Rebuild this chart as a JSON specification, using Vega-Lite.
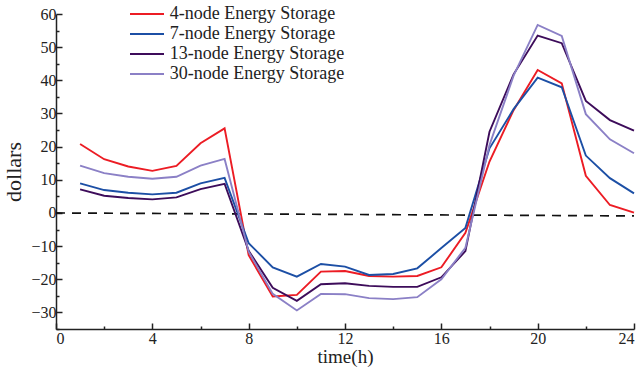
{
  "$schema": "https://vega.github.io/schema/vega-lite/v6.json",
  "width": 578,
  "height": 315,
  "autosize": "none",
  "padding": {"left": 56, "top": 14, "right": 9, "bottom": 46},
  "background": "white",
  "config": {
    "view": {"stroke": null},
    "font": "Liberation Serif",
    "axis": {"grid": false, "domainColor": "#222", "domainWidth": 1.5, "tickColor": "#222", "tickWidth": 1.5, "labelFont": "Liberation Serif", "titleFont": "Liberation Serif", "labelColor": "#222", "titleColor": "#222", "titleFontWeight": "normal", "labelFontSize": 16, "titleFontSize": 20, "labelOverlap": false, "labelBound": false}
  },
  "datasets": {
    "series": [
      {"h":1,"v":20.8,"s":"4-node Energy Storage"},{"h":2,"v":16.2,"s":"4-node Energy Storage"},{"h":3,"v":14.0,"s":"4-node Energy Storage"},{"h":4,"v":12.7,"s":"4-node Energy Storage"},{"h":5,"v":14.2,"s":"4-node Energy Storage"},{"h":6,"v":21.0,"s":"4-node Energy Storage"},{"h":7,"v":25.5,"s":"4-node Energy Storage"},{"h":8,"v":-12.7,"s":"4-node Energy Storage"},{"h":9,"v":-25.2,"s":"4-node Energy Storage"},{"h":10,"v":-24.7,"s":"4-node Energy Storage"},{"h":11,"v":-17.7,"s":"4-node Energy Storage"},{"h":12,"v":-17.5,"s":"4-node Energy Storage"},{"h":13,"v":-19.0,"s":"4-node Energy Storage"},{"h":14,"v":-19.2,"s":"4-node Energy Storage"},{"h":15,"v":-19.0,"s":"4-node Energy Storage"},{"h":16,"v":-16.4,"s":"4-node Energy Storage"},{"h":17,"v":-6.0,"s":"4-node Energy Storage"},{"h":18,"v":15.5,"s":"4-node Energy Storage"},{"h":19,"v":31.0,"s":"4-node Energy Storage"},{"h":20,"v":43.1,"s":"4-node Energy Storage"},{"h":21,"v":39.1,"s":"4-node Energy Storage"},{"h":22,"v":11.2,"s":"4-node Energy Storage"},{"h":23,"v":2.4,"s":"4-node Energy Storage"},{"h":24,"v":0.1,"s":"4-node Energy Storage"},
      {"h":1,"v":8.9,"s":"7-node Energy Storage"},{"h":2,"v":6.9,"s":"7-node Energy Storage"},{"h":3,"v":6.1,"s":"7-node Energy Storage"},{"h":4,"v":5.6,"s":"7-node Energy Storage"},{"h":5,"v":6.1,"s":"7-node Energy Storage"},{"h":6,"v":8.9,"s":"7-node Energy Storage"},{"h":7,"v":10.6,"s":"7-node Energy Storage"},{"h":8,"v":-9.1,"s":"7-node Energy Storage"},{"h":9,"v":-16.4,"s":"7-node Energy Storage"},{"h":10,"v":-19.2,"s":"7-node Energy Storage"},{"h":11,"v":-15.4,"s":"7-node Energy Storage"},{"h":12,"v":-16.2,"s":"7-node Energy Storage"},{"h":13,"v":-18.7,"s":"7-node Energy Storage"},{"h":14,"v":-18.4,"s":"7-node Energy Storage"},{"h":15,"v":-16.7,"s":"7-node Energy Storage"},{"h":16,"v":-10.6,"s":"7-node Energy Storage"},{"h":17,"v":-4.5,"s":"7-node Energy Storage"},{"h":18,"v":19.5,"s":"7-node Energy Storage"},{"h":19,"v":31.3,"s":"7-node Energy Storage"},{"h":20,"v":40.8,"s":"7-node Energy Storage"},{"h":21,"v":37.9,"s":"7-node Energy Storage"},{"h":22,"v":17.3,"s":"7-node Energy Storage"},{"h":23,"v":10.5,"s":"7-node Energy Storage"},{"h":24,"v":5.9,"s":"7-node Energy Storage"},
      {"h":1,"v":7.1,"s":"13-node Energy Storage"},{"h":2,"v":5.2,"s":"13-node Energy Storage"},{"h":3,"v":4.5,"s":"13-node Energy Storage"},{"h":4,"v":4.1,"s":"13-node Energy Storage"},{"h":5,"v":4.7,"s":"13-node Energy Storage"},{"h":6,"v":7.2,"s":"13-node Energy Storage"},{"h":7,"v":8.8,"s":"13-node Energy Storage"},{"h":8,"v":-11.4,"s":"13-node Energy Storage"},{"h":9,"v":-22.6,"s":"13-node Energy Storage"},{"h":10,"v":-26.5,"s":"13-node Energy Storage"},{"h":11,"v":-21.5,"s":"13-node Energy Storage"},{"h":12,"v":-21.2,"s":"13-node Energy Storage"},{"h":13,"v":-22.0,"s":"13-node Energy Storage"},{"h":14,"v":-22.3,"s":"13-node Energy Storage"},{"h":15,"v":-22.3,"s":"13-node Energy Storage"},{"h":16,"v":-19.4,"s":"13-node Energy Storage"},{"h":17,"v":-11.5,"s":"13-node Energy Storage"},{"h":18,"v":24.5,"s":"13-node Energy Storage"},{"h":19,"v":41.8,"s":"13-node Energy Storage"},{"h":20,"v":53.5,"s":"13-node Energy Storage"},{"h":21,"v":51.2,"s":"13-node Energy Storage"},{"h":22,"v":33.8,"s":"13-node Energy Storage"},{"h":23,"v":28.0,"s":"13-node Energy Storage"},{"h":24,"v":24.8,"s":"13-node Energy Storage"},
      {"h":1,"v":14.3,"s":"30-node Energy Storage"},{"h":2,"v":12.0,"s":"30-node Energy Storage"},{"h":3,"v":10.9,"s":"30-node Energy Storage"},{"h":4,"v":10.3,"s":"30-node Energy Storage"},{"h":5,"v":10.9,"s":"30-node Energy Storage"},{"h":6,"v":14.3,"s":"30-node Energy Storage"},{"h":7,"v":16.3,"s":"30-node Energy Storage"},{"h":8,"v":-11.7,"s":"30-node Energy Storage"},{"h":9,"v":-24.4,"s":"30-node Energy Storage"},{"h":10,"v":-29.4,"s":"30-node Energy Storage"},{"h":11,"v":-24.4,"s":"30-node Energy Storage"},{"h":12,"v":-24.5,"s":"30-node Energy Storage"},{"h":13,"v":-25.7,"s":"30-node Energy Storage"},{"h":14,"v":-26.0,"s":"30-node Energy Storage"},{"h":15,"v":-25.4,"s":"30-node Energy Storage"},{"h":16,"v":-20.0,"s":"30-node Energy Storage"},{"h":17,"v":-10.5,"s":"30-node Energy Storage"},{"h":18,"v":20.5,"s":"30-node Energy Storage"},{"h":19,"v":41.4,"s":"30-node Energy Storage"},{"h":20,"v":56.7,"s":"30-node Energy Storage"},{"h":21,"v":53.4,"s":"30-node Energy Storage"},{"h":22,"v":29.8,"s":"30-node Energy Storage"},{"h":23,"v":22.2,"s":"30-node Energy Storage"},{"h":24,"v":18.0,"s":"30-node Energy Storage"}
    ],
    "baseline": [{"h":0,"v":0},{"h":24,"v":-0.9}]
  },
  "resolve": {"axis": {"x": "independent", "y": "independent"}},
  "layer": [
    {
      "data": {"name": "baseline"},
      "mark": {"type": "line", "color": "#111", "strokeWidth": 1.7, "strokeDash": [9, 7]},
      "encoding": {
        "x": {"field": "h", "type": "quantitative", "scale": {"domain": [0, 24], "nice": false},
          "axis": {"orient": "bottom", "title": null, "labels": false, "domain": false, "values": [2,6,10,14,18,22], "tickSize": -3}},
        "y": {"field": "v", "type": "quantitative", "scale": {"domain": [-35, 60], "nice": false, "zero": false},
          "axis": {"orient": "left", "title": null, "labels": false, "domain": false, "values": [-35,-25,-15,-5,5,15,25,35,45,55], "tickSize": -3}}
      }
    },
    {
      "data": {"name": "series"},
      "mark": {"type": "line", "strokeWidth": 1.9},
      "encoding": {
        "x": {"field": "h", "type": "quantitative", "scale": {"domain": [0, 24], "nice": false},
          "axis": {"orient": "bottom", "title": "time(h)", "titleFontSize": 19, "titleFontWeight": "normal", "values": [0,4,8,12,16,20,24], "tickSize": -6, "labelPadding": 7, "titlePadding": 1}},
        "y": {"field": "v", "type": "quantitative", "scale": {"domain": [-35, 60], "nice": false, "zero": false},
          "axis": {"orient": "left", "title": "dollars", "titleFontSize": 22, "titleFontWeight": "normal", "values": [-30,-20,-10,0,10,20,30,40,50,60], "tickSize": -6, "labelPadding": 6, "titlePadding": 5}},
        "color": {"field": "s", "type": "nominal",
          "scale": {"domain": ["4-node Energy Storage", "7-node Energy Storage", "13-node Energy Storage", "30-node Energy Storage"], "range": ["#ec1c24", "#1c4fa5", "#3d0c5a", "#8b80c6"]},
          "legend": {"title": null, "orient": "none", "legendX": 80, "legendY": -11, "padding": 0, "symbolType": "M-1.7,0H1.7", "symbolSize": 400, "symbolStrokeWidth": 2, "labelFontSize": 18, "labelFont": "Liberation Serif", "labelColor": "#222", "rowPadding": -1, "labelOffset": 11.7, "labelLimit": 400}}
      }
    }
  ]
}
